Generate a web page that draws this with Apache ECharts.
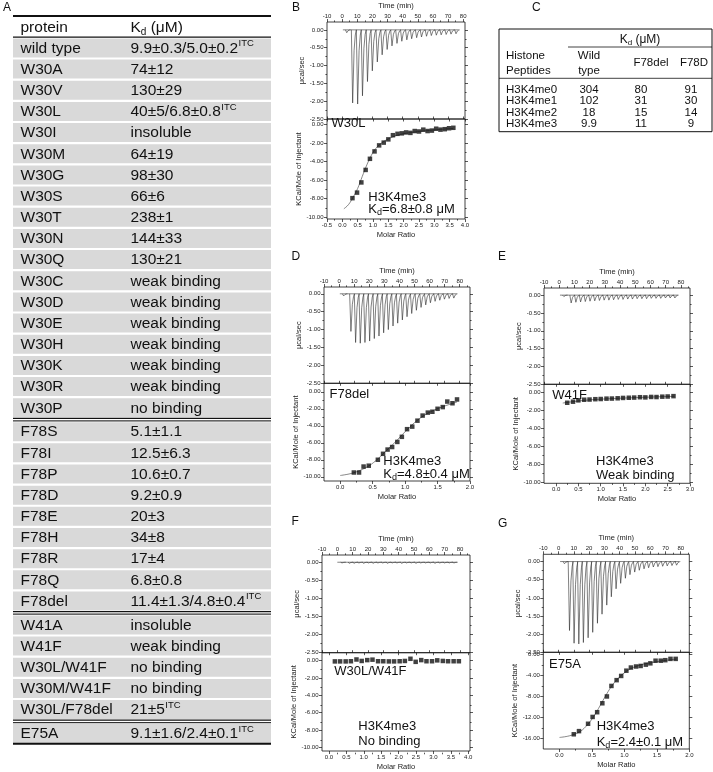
<!DOCTYPE html>
<html><head><meta charset="utf-8">
<script src="https://cdn.jsdelivr.net/npm/echarts@6/dist/echarts.min.js"></script>
<style>html,body{margin:0;padding:0;background:#fff}#c{width:713px;height:772px}</style>
</head><body><div id="c"></div>
<script>
// ================= DATA =================
// Panel A table
const proteins = ['wild type','W30A','W30V','W30L','W30I','W30M','W30G','W30S','W30T','W30N','W30Q','W30C','W30D','W30E','W30H','W30K','W30R','W30P',
  'F78S','F78I','F78P','F78D','F78E','F78H','F78R','F78Q','F78del',
  'W41A','W41F','W30L/W41F','W30M/W41F','W30L/F78del','E75A'];
const kdText = ['9.9±0.3/5.0±0.2','74±12','130±29','40±5/6.8±0.8','insoluble','64±19','98±30','66±6','238±1','144±33','130±21',
  'weak binding','weak binding','weak binding','weak binding','weak binding','weak binding','no binding',
  '5.1±1.1','12.5±6.3','10.6±0.7','9.2±0.9','20±3','34±8','17±4','6.8±0.8','11.4±1.3/4.8±0.4',
  'insoluble','weak binding','no binding','no binding','21±5','9.1±1.6/2.4±0.1'];
const kdITC = [1,0,0,1,0,0,0,0,0,0,0,0,0,0,0,0,0,0, 0,0,0,0,0,0,0,0,1, 0,0,0,0,1, 1];
const groupSizes = [18, 9, 5, 1];

// Panel C table
const peptides = ['H3K4me0','H3K4me1','H3K4me2','H3K4me3'];
const kdWild = ['304','102','18','9.9'];
const kdF78del = ['80','31','15','11'];
const kdF78D = ['91','30','14','9'];

// Tick values
const timeTicks = [-10,0,10,20,30,40,50,60,70,80];
const timeMinor = [-5,5,15,25,35,45,55,65,75,85];
const thermoTicks = [0,-0.5,-1,-1.5,-2,-2.5];
const thermoMinor = [-0.25,-0.75,-1.25,-1.75,-2.25];
const heatTicks10 = [0,-2,-4,-6,-8,-10];
const heatMinor10 = [-1,-3,-5,-7,-9];
const heatTicks16 = [0,-4,-8,-12,-16];
const heatMinor16 = [-2,-6,-10,-14];
const ratioTicks4b = [-0.5,0,0.5,1,1.5,2,2.5,3,3.5,4];
const ratioMinor4b = [-0.25,0.25,0.75,1.25,1.75,2.25,2.75,3.25,3.75];
const ratioTicks2 = [0,0.5,1,1.5,2];
const ratioMinor2 = [0.25,0.75,1.25,1.75];
const ratioTicks3 = [0,0.5,1,1.5,2,2.5,3];
const ratioMinor3 = [0.25,0.75,1.25,1.75,2.25,2.75];
const ratioTicks4 = [0,0.5,1,1.5,2,2.5,3,3.5,4];
const ratioMinor4 = [0.25,0.75,1.25,1.75,2.25,2.75,3.25,3.75];

// Panel B (W30L)
const bBase = [0.5, 77];
const bTime = [2.5,6.4,9.7,12.9,16.2,19.4,22.7,25.9,29.2,32.4,35.7,38.9,42.2,45.4,48.7,51.9,55.2,58.4,61.7,64.9,68.2,71.4,74.7];
const bPeak = [-0.08,-2.05,-2.08,-1.85,-1.45,-1.15,-0.9,-0.7,-0.55,-0.45,-0.38,-0.32,-0.28,-0.25,-0.22,-0.2,-0.18,-0.16,-0.15,-0.14,-0.13,-0.12,-0.11];
const bRatio = [0.33,0.48,0.62,0.76,0.9,1.05,1.2,1.35,1.5,1.65,1.8,1.94,2.08,2.22,2.36,2.5,2.64,2.78,2.92,3.06,3.2,3.34,3.48,3.62];
const bHeat = [-7.95,-7.35,-6.25,-4.9,-3.7,-2.9,-2.25,-1.95,-1.6,-1.15,-1.0,-0.95,-0.85,-0.9,-0.7,-0.75,-0.55,-0.7,-0.65,-0.45,-0.55,-0.5,-0.4,-0.35];
const bFitX = [0.05,0.2,0.35,0.5,0.65,0.8,0.95,1.1,1.3,1.5,1.8,2.2,2.7,3.2,3.62];
const bFitY = [-9.1,-8.65,-7.85,-6.9,-5.6,-4.35,-3.3,-2.55,-1.95,-1.55,-1.15,-0.88,-0.68,-0.52,-0.42];

// Panel D (F78del)
const dBase = [0.5, 78];
const dTime = [2.5,7.3,10.4,13.5,16.6,19.7,22.8,25.9,29.0,32.1,35.2,38.3,41.4,44.5,47.6,50.7,53.8,56.9,60.0,63.1,66.2,69.3,72.4,75.5];
const dPeak = [-0.06,-1.05,-1.36,-1.38,-1.36,-1.32,-1.25,-1.18,-1.09,-1.0,-0.9,-0.82,-0.73,-0.64,-0.55,-0.46,-0.38,-0.31,-0.25,-0.21,-0.18,-0.15,-0.13,-0.12];
const dRatio = [0.21,0.29,0.36,0.44,0.58,0.66,0.73,0.8,0.88,0.95,1.03,1.11,1.19,1.27,1.35,1.42,1.5,1.58,1.65,1.73,1.8];
const dHeat = [-9.5,-9.5,-8.8,-8.7,-8.0,-7.3,-6.8,-6.5,-5.9,-5.3,-4.4,-4.1,-3.4,-2.8,-2.45,-2.35,-2.0,-1.8,-1.15,-1.35,-0.9];
const dFitX = [0.0,0.2,0.4,0.55,0.7,0.85,1.0,1.15,1.3,1.45,1.6,1.8];
const dFitY = [-9.85,-9.55,-8.9,-8.1,-7.0,-5.9,-4.7,-3.6,-2.75,-2.15,-1.7,-1.2];

// Panel E (W41F)
const eBase = [0.5, 78];
const eTime = [2.5,7.3,10.4,13.5,16.6,19.7,22.8,25.9,29.0,32.1,35.2,38.3,41.4,44.5,47.6,50.7,53.8,56.9,60.0,63.1,66.2,69.3,72.4,75.5];
const ePeak = [-0.04,-0.22,-0.2,-0.19,-0.18,-0.17,-0.16,-0.15,-0.14,-0.14,-0.13,-0.12,-0.12,-0.11,-0.11,-0.1,-0.1,-0.1,-0.09,-0.09,-0.09,-0.08,-0.08,-0.08];
const eRatio = [0.25,0.38,0.5,0.63,0.75,0.88,1.0,1.13,1.25,1.38,1.5,1.63,1.75,1.88,2.0,2.13,2.25,2.38,2.5,2.63];
const eHeat = [-1.12,-1.0,-0.85,-0.78,-0.76,-0.72,-0.7,-0.66,-0.65,-0.62,-0.58,-0.56,-0.54,-0.5,-0.52,-0.47,-0.48,-0.44,-0.42,-0.38];
const eFitX = [0.15,0.4,0.7,1.0,1.4,1.8,2.2,2.65];
const eFitY = [-1.15,-0.98,-0.82,-0.72,-0.62,-0.54,-0.47,-0.4];

// Panel F (W30L/W41F)
const fBase = [0, 78];
const fTime = [2.5,7.3,10.4,13.5,16.6,19.7,22.8,25.9,29.0,32.1,35.2,38.3,41.4,44.5,47.6,50.7,53.8,56.9,60.0,63.1,66.2,69.3,72.4,75.5];
const fPeak = [-0.02,-0.03,-0.03,-0.02,-0.03,-0.02,-0.03,-0.02,-0.02,-0.03,-0.02,-0.02,-0.03,-0.02,-0.02,-0.03,-0.02,-0.02,-0.02,-0.03,-0.02,-0.02,-0.02,-0.02];
const fRatio = [0.17,0.32,0.48,0.63,0.79,0.94,1.1,1.25,1.41,1.56,1.72,1.87,2.03,2.18,2.34,2.49,2.65,2.8,2.96,3.11,3.27,3.42,3.58,3.73];
const fHeat = [-0.1,-0.1,-0.1,-0.08,0.12,-0.05,0.05,0.1,-0.08,-0.08,-0.1,-0.1,-0.08,-0.05,0.2,-0.15,0.05,-0.08,-0.08,0.02,-0.05,-0.08,-0.08,-0.08];

// Panel G (E75A)
const gBase = [1, 79];
const gTime = [3.3,6.6,9.6,12.7,15.7,18.8,21.8,24.9,27.9,31.0,34.0,37.1,40.1,43.2,46.2,49.3,52.3,55.4,58.4,61.5,64.5,67.6,70.6,73.7,76.7];
const gPeak = [-0.06,-1.9,-2.25,-2.27,-2.23,-2.1,-1.95,-1.7,-1.45,-1.2,-0.97,-0.75,-0.6,-0.46,-0.36,-0.29,-0.24,-0.2,-0.17,-0.15,-0.14,-0.13,-0.12,-0.11,-0.1];
const gRatio = [0.22,0.3,0.44,0.51,0.58,0.66,0.73,0.8,0.88,0.95,1.03,1.1,1.18,1.25,1.33,1.4,1.48,1.56,1.63,1.71,1.79];
const gHeat = [-15.2,-14.6,-13.2,-11.9,-11.0,-9.3,-8.0,-6.0,-4.9,-4.1,-3.1,-2.5,-2.3,-2.2,-1.95,-1.7,-1.2,-1.2,-1.1,-0.85,-0.85];
const gFitX = [0.0,0.15,0.3,0.4,0.5,0.6,0.7,0.8,0.9,1.0,1.1,1.25,1.4,1.6,1.8];
const gFitY = [-15.8,-15.5,-14.8,-13.8,-12.3,-10.3,-8.1,-6.1,-4.6,-3.5,-2.7,-2.0,-1.6,-1.2,-0.9];

// ================= LAYOUT / RENDER =================
const FONT = '"Liberation Sans", Arial, Helvetica, sans-serif';
const mctx = document.createElement('canvas').getContext('2d');
function tw(s, size){ mctx.font = size + 'px ' + FONT; return mctx.measureText(s).width; }

const graphic = [];
function txt(x, y, s, size, align, extra){
  graphic.push(Object.assign({type:'text', x:x, y:y, z:100, silent:true,
    style:{text:s, x:0, y:0, font: size+'px '+FONT, fill:'#111', textAlign:align||'left', align:align||'left', textVerticalAlign:'middle', verticalAlign:'middle'}}, extra||{}));
}
function hline(x1, x2, y, w, color){
  graphic.push({type:'line', z:90, silent:true, shape:{x1:x1,y1:y,x2:x2,y2:y}, style:{stroke:color||'#111', lineWidth:w}});
}
function vline(x, y1, y2, w){
  graphic.push({type:'line', z:90, silent:true, shape:{x1:x,y1:y1,x2:x,y2:y2}, style:{stroke:'#111', lineWidth:w}});
}
function kdLabel(x, y, size, subSize, rest, align){
  const w = tw('K', size) + tw('d', subSize) + tw(rest, size);
  let x0 = x; if (align === 'center') x0 = x - w/2;
  txt(x0, y, 'K', size);
  txt(x0 + tw('K', size), y + size*0.28, 'd', subSize);
  txt(x0 + tw('K', size) + tw('d', subSize), y, rest, size);
}

// ---- Panel A table ----
(function(){
  const L = 13, R = 271, colP = 20.5, colK = 130.5, fs = 15.5;
  txt(3, 8, 'A', 12);
  hline(L, R, 16, 2);
  txt(colP, 28, 'protein', fs);
  kdLabel(colK, 28, fs, 10, ' (μM)');
  hline(L, R, 37.2, 1.2);
  const pitch = 21.17, bandH = 19, top0 = 38.4, sepExtra = 2.7;
  let idx = 0, sep = 0;
  groupSizes.forEach((n, gi) => {
    for (let k = 0; k < n; k++, idx++) {
      const top = top0 + idx*pitch + sep*sepExtra;
      graphic.push({type:'rect', z:80, silent:true, shape:{x:L, y:top, width:R-L, height:bandH}, style:{fill:'#d9d9d9'}});
      const cy = top + bandH/2 + 0.5;
      txt(colP, cy, proteins[idx], fs);
      txt(colK, cy, kdText[idx], fs);
      if (kdITC[idx]) txt(colK + tw(kdText[idx], fs) + 0.5, cy - 5, 'ITC', 9.5);
      if (k === n-1) {
        const b = top + bandH;
        if (gi < groupSizes.length - 1) { hline(L, R, b+1.1, 1.3); hline(L, R, b+3.6, 1.1, '#333'); }
        else hline(L, R, b+0.9, 2);
      }
    }
    sep++;
  });
})();

// ---- Panel C table ----
(function(){
  const L = 499, R = 712, T = 29, B = 131.7, fs = 11.5;
  txt(532, 8, 'C', 12);
  hline(L, R, T, 1); hline(L, R, B, 1); vline(L, T, B, 1); vline(R, T, B, 1);
  kdLabel(640, 39.5, 12, 8, ' (μM)', 'center');
  hline(568, R, 47, 0.8);
  txt(506, 56, 'Histone', fs); txt(506, 70.5, 'Peptides', fs);
  txt(589, 56, 'Wild', fs, 'center'); txt(589, 70.5, 'type', fs, 'center');
  txt(651, 63.3, 'F78del', fs, 'center'); txt(694, 63.3, 'F78D', fs, 'center');
  hline(L, R, 78.3, 0.8);
  const rowsY = [89.4, 101, 112.6, 124];
  peptides.forEach((p, i) => {
    txt(506, rowsY[i], p, fs);
    txt(589, rowsY[i], kdWild[i], fs, 'center');
    txt(641, rowsY[i], kdF78del[i], fs, 'center');
    txt(691, rowsY[i], kdF78D[i], fs, 'center');
  });
})();

// ---- ITC panels ----
const panels = [
  {lab:'B', labX:292, labY:8, L:327, R:465, T:22, D:119, Bt:219, tMax:81.2, thMax:0.22, rMin:-0.5, rMax:4.0, hMin:-10.2, hMax:0.6,
   rTicks:ratioTicks4b, rMinor:ratioMinor4b, hTicks:heatTicks10, hMinor:heatMinor10,
   base:bBase, time:bTime, peak:bPeak, ratio:bRatio, heat:bHeat, fitX:bFitX, fitY:bFitY,
   notes:[[331.5,123.5,'W30L'],[368.3,197.5,'H3K4me3']], kd:[368.3,209.5,'=6.8±0.8 μM']},
  {lab:'D', labX:291.5, labY:257, L:324, R:470, T:287, D:383.3, Bt:481, tMax:86.8, thMax:0.19, rMin:-0.25, rMax:2.0, hMin:-10.5, hMax:1.0,
   rTicks:ratioTicks2, rMinor:ratioMinor2, hTicks:heatTicks10, hMinor:heatMinor10,
   base:dBase, time:dTime, peak:dPeak, ratio:dRatio, heat:dHeat, fitX:dFitX, fitY:dFitY,
   notes:[[329.5,394.5,'F78del'],[383.3,461.7,'H3K4me3']], kd:[383.3,474.5,'=4.8±0.4 μM']},
  {lab:'E', labX:498, labY:257, L:544, R:690, T:288, D:384.3, Bt:483.3, tMax:86, thMax:0.2, rMin:-0.27, rMax:3.0, hMin:-10.1, hMax:0.94,
   rTicks:ratioTicks3, rMinor:ratioMinor3, hTicks:heatTicks10, hMinor:heatMinor10,
   base:eBase, time:eTime, peak:ePeak, ratio:eRatio, heat:eHeat, fitX:eFitX, fitY:eFitY,
   notes:[[552.3,395,'W41F'],[596,461.7,'H3K4me3'],[596,475.5,'Weak binding']]},
  {lab:'F', labX:291.5, labY:522, L:322, R:470, T:555, D:652.7, Bt:752.7, tMax:86.5, thMax:0.2, rMin:-0.2, rMax:4.05, hMin:-10.4, hMax:0.9,
   rTicks:ratioTicks4, rMinor:ratioMinor4, hTicks:heatTicks10, hMinor:heatMinor10,
   base:fBase, time:fTime, peak:fPeak, ratio:fRatio, heat:fHeat, fitX:null, fitY:null,
   notes:[[334.3,671.7,'W30L/W41F'],[358.3,726.7,'H3K4me3'],[358.3,741.5,'No binding']]},
  {lab:'G', labX:498, labY:523.5, L:543.3, R:689.3, T:554.3, D:652.3, Bt:749, tMax:85.6, thMax:0.2, rMin:-0.25, rMax:2.0, hMin:-18, hMax:0.4,
   rTicks:ratioTicks2, rMinor:ratioMinor2, hTicks:heatTicks16, hMinor:heatMinor16,
   base:gBase, time:gTime, peak:gPeak, ratio:gRatio, heat:gHeat, fitX:gFitX, fitY:gFitY,
   notes:[[549,664,'E75A'],[596.7,726.7,'H3K4me3']], kd:[596.7,742,'=2.4±0.1 μM']}
];

const grid = [], xAxis = [], yAxis = [], series = [];
const fmt = d => v => (Math.abs(v) < 1e-9 ? 0 : v).toFixed(d);
function mkAxis(gridIndex, position, min, max, ticks, o){
  o = o || {};
  const a = {
    type:'value', gridIndex, position, min, max,
    axisLine:{show:false, onZero:false}, splitLine:{show:false},
    axisTick:{show:true, customValues:ticks, inside:!!o.inside, length:(o.len!=null?o.len:3), lineStyle:{color:'#111', width:0.7}},
    axisLabel: o.labels ? {show:true, customValues:ticks, formatter:o.fmt, fontSize:6, fontFamily:FONT, color:'#222', margin:(o.margin!=null?o.margin:3)} : {show:false},
    z:5
  };
  if (o.name) Object.assign(a, {name:o.name, nameLocation:'middle', nameGap:o.nameGap, nameTextStyle:{fontSize:7.5, fontFamily:FONT, color:'#222'}});
  return a;
}

panels.forEach(p => {
  const g0 = grid.length, W = p.R - p.L;
  const gTop = {left:p.L, top:p.T, width:W, height:p.D-p.T};
  const gBot = {left:p.L, top:p.D, width:W, height:p.Bt-p.D};
  grid.push(Object.assign({show:true, borderColor:'#111', borderWidth:0.8, backgroundColor:'rgba(0,0,0,0)'}, gTop));
  grid.push(Object.assign({show:false}, gTop));
  grid.push(Object.assign({show:true, borderColor:'#111', borderWidth:0.8, backgroundColor:'rgba(0,0,0,0)'}, gBot));
  grid.push(Object.assign({show:false}, gBot));

  const xT = xAxis.length, yT = yAxis.length;
  xAxis.push(mkAxis(g0,'top',-10,p.tMax,timeTicks,{labels:true, fmt:v=>String(v), name:'Time (min)', nameGap:12, margin:3}));
  xAxis.push(mkAxis(g0,'bottom',-10,p.tMax,timeTicks,{inside:true, len:2.5}));
  yAxis.push(mkAxis(g0,'left',-2.5,p.thMax,thermoTicks,{labels:true, fmt:fmt(2), name:'μcal/sec', nameGap:21, margin:3.5}));
  yAxis.push(mkAxis(g0,'right',-2.5,p.thMax,thermoTicks,{}));
  xAxis.push(mkAxis(g0+1,'top',-10,p.tMax,timeMinor,{len:1.6}));
  yAxis.push(mkAxis(g0+1,'left',-2.5,p.thMax,thermoMinor,{len:1.6}));
  yAxis.push(mkAxis(g0+1,'right',-2.5,p.thMax,thermoMinor,{len:1.6}));

  const xB = xAxis.length, yB = yAxis.length;
  xAxis.push(mkAxis(g0+2,'bottom',p.rMin,p.rMax,p.rTicks,{labels:true, fmt:fmt(1), name:'Molar Ratio', nameGap:12, margin:3}));
  xAxis.push(mkAxis(g0+2,'top',p.rMin,p.rMax,p.rTicks,{inside:true, len:2.5}));
  yAxis.push(mkAxis(g0+2,'left',p.hMin,p.hMax,p.hTicks,{labels:true, fmt:fmt(2), name:'KCal/Mole of Injectant', nameGap:21, margin:3.5}));
  yAxis.push(mkAxis(g0+2,'right',p.hMin,p.hMax,p.hTicks,{}));
  xAxis.push(mkAxis(g0+3,'bottom',p.rMin,p.rMax,p.rMinor,{len:1.6}));
  yAxis.push(mkAxis(g0+3,'left',p.hMin,p.hMax,p.hMinor,{len:1.6}));
  yAxis.push(mkAxis(g0+3,'right',p.hMin,p.hMax,p.hMinor,{len:1.6}));

  series.push({type:'line', xAxisIndex:xT, yAxisIndex:yT, data:[[p.base[0],0],[p.base[1],0]], showSymbol:false, silent:true,
    lineStyle:{color:'#333', width:0.6}, animation:false});
  series.push({type:'custom', xAxisIndex:xT, yAxisIndex:yT, silent:true, animation:false,
    data:p.time.map((t,i)=>[t,p.peak[i]]),
    renderItem:(params, api) => {
      const t = api.value(0), d = api.value(1);
      const pts = [[t-0.3,0],[t+0.55,d],[t+1.5,d*0.28],[t+2.3,d*0.07],[t+3.0,0]].map(q=>api.coord(q));
      return {type:'polyline', shape:{points:pts}, style:{stroke:'#2a2a2a', lineWidth:0.6, fill:null}};
    }});
  if (p.fitX) series.push({type:'line', xAxisIndex:xB, yAxisIndex:yB, data:p.fitX.map((x,i)=>[x,p.fitY[i]]), smooth:0.4,
    showSymbol:false, silent:true, lineStyle:{color:'#555', width:0.7}, animation:false});
  series.push({type:'scatter', xAxisIndex:xB, yAxisIndex:yB, data:p.ratio.map((x,i)=>[x,p.heat[i]]),
    symbol:'rect', symbolSize:4.5, itemStyle:{color:'#111'}, silent:true, animation:false, z:3});

  txt(p.labX, p.labY, p.lab, 12);
  p.notes.forEach(n => txt(n[0], n[1], n[2], 13));
  if (p.kd) {
    const [x, y, rest] = p.kd;
    txt(x, y, 'K', 13);
    txt(x + tw('K',13), y + 3.5, 'd', 9);
    txt(x + tw('K',13) + tw('d',9), y, rest, 13);
  }
});

const chart = echarts.init(document.getElementById('c'), null, {renderer:'canvas'});
chart.setOption({
  backgroundColor:'#fff', animation:false,
  grid, xAxis, yAxis, series, graphic
});
</script>
</body></html>
